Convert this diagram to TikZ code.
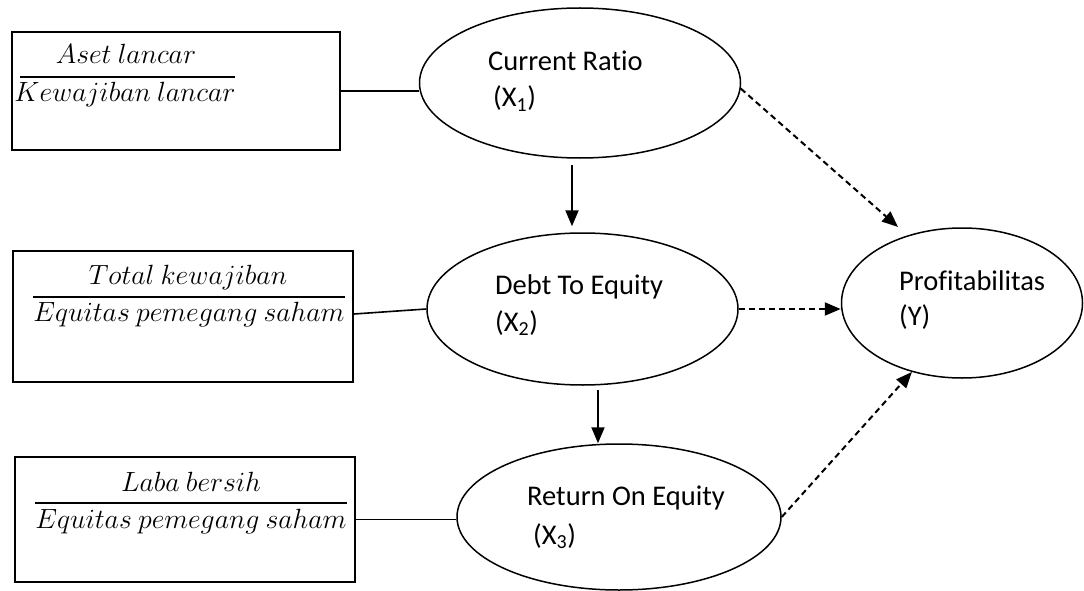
\documentclass[tikz,border=0pt]{standalone}
\usepackage{fix-cm}
\usepackage[no-math]{fontspec}
\setmainfont{Carlito}[Ligatures=NoCommon]
\usetikzlibrary{shapes.geometric,arrows.meta}
\tikzset{
  box/.style={draw, line width=1.8pt, inner sep=0pt},
  oval/.style={draw, ellipse, line width=1.5pt, inner sep=0pt},
  lbl/.style={anchor=base west, inner sep=0pt, font=\fontsize{28.5}{34}\selectfont},
  fractxt/.style={anchor=base, inner sep=0pt, font=\fontsize{27.8}{30}\selectfont},
  fracline/.style={line width=2pt},
  link/.style={line width=1.6pt},
  solidarrow/.style={line width=2pt, -{Triangle[length=16pt,width=13pt]}},
  dasharrow/.style={line width=2pt, dash pattern=on 6pt off 4pt, -{Triangle[length=16pt,width=13pt]}}
}
\begin{document}
\begin{tikzpicture}[x=1pt,y=-1pt]
\useasboundingbox (0,0) rectangle (1084,591);
% boxes
\node[box, minimum width=328pt, minimum height=118pt] (b1) at (176,91) {};
\node[box, minimum width=340pt, minimum height=131pt] (b2) at (183,316.5) {};
\node[box, minimum width=340pt, minimum height=125pt] (b3) at (185,519.5) {};
% fractions
\node[fractxt] (n1) at (126,64) {$Aset\ lancar$};
\draw[fracline] (20,77) -- (235,77);
\node[fractxt] (d1) at (125,102) {$Kewajiban\ lancar$};
\node[fractxt] (n2) at (188,284) {$Total\ kewajiban$};
\draw[fracline] (33,297) -- (345,297);
\node[fractxt] (d2) at (189,321) {$Equitas\ pemegang\ saham$};
\node[fractxt] (n3) at (191,491) {$Laba\ bersih$};
\draw[fracline] (35,503) -- (347,503);
\node[fractxt] (d3) at (191,528) {$Equitas\ pemegang\ saham$};
% ellipses
\node[oval, minimum width=321pt, minimum height=150pt] (e1) at (580,83) {};
\node[oval, minimum width=311pt, minimum height=152pt] (e2) at (582.5,309) {};
\node[oval, minimum width=324pt, minimum height=146pt] (e3) at (619,517) {};
\node[oval, minimum width=241pt, minimum height=150pt] (eY) at (962,303) {};
% labels
\node[lbl] (t1a) at (488,71) {Current Ratio};
\node[lbl] (t1b) at (493,107) {(X\textsubscript{1})};
\node[lbl] (t2a) at (495,294) {Debt To Equity};
\node[lbl] (t2b) at (495,331) {(X\textsubscript{2})};
\node[lbl] (t3a) at (527,505) {Return On Equity};
\node[lbl] (t3b) at (533,544) {(X\textsubscript{3})};
\node[lbl] (tYa) at (899,290) {Profitabilitas};
\node[lbl] (tYb) at (899,325) {(Y)};
% connectors
\draw[link] (b1.east) -- (b1.east -| e1.west);
\draw[link] ([yshift=2.5pt]b2.east) -- (e2.west);
\draw[link] (b3.east) -- (b3.east -| e3.west);
\draw[solidarrow] ([xshift=-8pt,yshift=-6pt]e1.south) -- ([xshift=-10.5pt,yshift=6pt]e2.north);
\draw[solidarrow] ([xshift=15.5pt,yshift=-4pt]e2.south) -- ([xshift=-21pt]e3.north);
\draw[dasharrow] (e1.-2.5) -- ([shift={(-64pt,76pt)}]eY.center);
\draw[dasharrow] (e2.east) -- (e2.east -| eY.west);
\draw[dasharrow] (e3.east) -- (eY.234.6);
\end{tikzpicture}
\end{document}
